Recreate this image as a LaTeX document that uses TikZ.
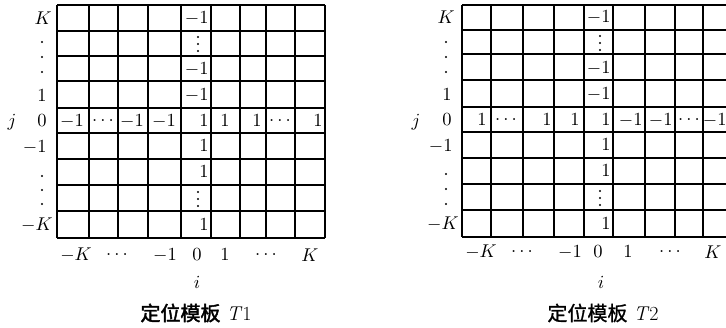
\documentclass[tikz,border=0pt]{standalone}
\usepackage{fontspec}
\newfontfamily\cjk[FakeBold=1]{Noto Sans CJK SC}
\newfontfamily\cjkb[FakeBold=2]{Noto Sans CJK SC}
\begin{document}
\begin{tikzpicture}[x=1pt,y=-1pt,
  gridline/.style={line width=1.2pt,black},
  val/.style={inner sep=0pt,scale=1.85},
  lab/.style={inner sep=0pt,scale=1.85},
  captext/.style={inner sep=0pt,font=\fontsize{20}{22}\selectfont},
  dotmark/.style={circle,fill=black,inner sep=0pt,minimum size=2.4pt},
  celldot/.style={circle,fill=black,inner sep=0pt,minimum size=2.2pt}]
\useasboundingbox (0,0) rectangle (726,327);
\clip (0,0) rectangle (726,327);
% ---------- T1 grid ----------
\foreach \x in {57,89,118,148,181,211,240,266,295,325}
  \draw[gridline] (\x,5) -- (\x,238);
\foreach \y in {5,31,56,81,108,133,159,185,211,238}
  \draw[gridline] (57,\y) -- (325,\y);
% column i=0 values
\node[val,anchor=east] (a0) at (209,18) {$-1$};
\node[celldot] (a1a) at (198,37) {};
\node[celldot] (a1b) at (198,44) {};
\node[celldot] (a1c) at (198,51) {};
\node[val,anchor=east] (a2) at (209,69) {$-1$};
\node[val,anchor=east] (a3) at (209,95) {$-1$};
\node[val,anchor=east] (a5) at (209,146) {$1$};
\node[val,anchor=east] (a6) at (209,172) {$1$};
\node[celldot] (a7a) at (198,192) {};
\node[celldot] (a7b) at (198,199) {};
\node[celldot] (a7c) at (198,206) {};
\node[val,anchor=east] (a8) at (209,225) {$1$};
% row j=0 values
\node[val] (b0) at (72,121) {$-1$};
\node[val] (b1) at (103,121) {$\ldots$};
\node[val] (b2) at (132,121) {$-1$};
\node[val] (b3) at (164,121) {$-1$};
\node[val,anchor=east] (b4) at (209,121) {$1$};
\node[val] (b5) at (225,121) {$1$};
\node[val] (b6) at (257,121) {$1$};
\node[val] (b7) at (280,121) {$\ldots$};
\node[val,anchor=east] (b8) at (323,121) {$1$};
% row labels
\node[lab,anchor=east] (rK) at (52,18) {$K$};
\node[dotmark] (rd1) at (42,42) {};
\node[dotmark] (rd2) at (42,57) {};
\node[dotmark] (rd3) at (42,72) {};
\node[lab,anchor=east] (r1) at (47,96) {$1$};
\node[lab,anchor=east] (r0) at (47,121) {$0$};
\node[lab,anchor=east] (rm1) at (47,147) {$-1$};
\node[dotmark] (rd4) at (42,176) {};
\node[dotmark] (rd5) at (42,190) {};
\node[dotmark] (rd6) at (42,204) {};
\node[lab,anchor=east] (rmK) at (53,225) {$-K$};
\node[lab] (jA) at (12,122) {$j$};
% column labels
\node[lab] (cmK) at (76,255) {$-K$};
\node[lab] (cd1) at (117,255) {$\ldots$};
\node[lab] (cm1) at (165,255) {$-1$};
\node[lab] (c0) at (197,255) {$0$};
\node[lab] (c1) at (225,255) {$1$};
\node[lab] (cd2) at (266,255) {$\ldots$};
\node[lab] (cK) at (310,255) {$K$};
\node[lab] (iA) at (197,282) {$i$};
\node[captext] (capA) at (196,313) {{\cjkb 定位模板} \textit{T}1};
% ---------- T2 grid ----------
\foreach \x in {462,491,523,554,584,613,645,675,703,733}
  \draw[gridline] (\x,5) -- (\x,237);
\foreach \y in {5,30,54,80,107,132,158,184,210,237}
  \draw[gridline] (462,\y) -- (733,\y);
% column i=0 values
\node[val,anchor=east] (p0) at (611,17) {$-1$};
\node[celldot] (p1a) at (600,36) {};
\node[celldot] (p1b) at (600,43) {};
\node[celldot] (p1c) at (600,50) {};
\node[val,anchor=east] (p2) at (611,68) {$-1$};
\node[val,anchor=east] (p3) at (611,94) {$-1$};
\node[val,anchor=east] (p5) at (611,145) {$1$};
\node[val,anchor=east] (p6) at (611,171) {$1$};
\node[celldot] (p7a) at (600,191) {};
\node[celldot] (p7b) at (600,198) {};
\node[celldot] (p7c) at (600,205) {};
\node[val,anchor=east] (p8) at (611,224) {$1$};
% row j=0 values
\node[val,anchor=east] (q0) at (487,120) {$1$};
\node[val] (q1) at (506,120) {$\ldots$};
\node[val,anchor=east] (q2) at (552,120) {$1$};
\node[val,anchor=east] (q3) at (580,120) {$1$};
\node[val,anchor=east] (q4) at (611,120) {$1$};
\node[val,anchor=east] (q5) at (643,120) {$-1$};
\node[val,anchor=east] (q6) at (673,120) {$-1$};
\node[val] (q7) at (689,120) {$\ldots$};
\node[val,anchor=east] (q8) at (727,120) {$-1$};
% row labels
\node[lab,anchor=east] (sK) at (455,17) {$K$};
\node[dotmark] (sd1) at (446,42) {};
\node[dotmark] (sd2) at (446,57) {};
\node[dotmark] (sd3) at (446,72) {};
\node[lab,anchor=east] (s1) at (452,95) {$1$};
\node[lab,anchor=east] (s0) at (452,120) {$0$};
\node[lab,anchor=east] (sm1) at (453,146) {$-1$};
\node[dotmark] (sd4) at (446,174) {};
\node[dotmark] (sd5) at (446,189) {};
\node[dotmark] (sd6) at (446,204) {};
\node[lab,anchor=east] (smK) at (459,224) {$-K$};
\node[lab] (jB) at (416,122) {$j$};
% column labels
\node[lab] (tmK) at (481,252) {$-K$};
\node[lab] (td1) at (522,252) {$\ldots$};
\node[lab] (tm1) at (570,252) {$-1$};
\node[lab] (t0) at (598,252) {$0$};
\node[lab] (t1) at (628,252) {$1$};
\node[lab] (td2) at (670,252) {$\ldots$};
\node[lab] (tK) at (713,252) {$K$};
\node[lab] (iB) at (601,282) {$i$};
\node[captext] (capB) at (603,313) {{\cjk 定位模板} \textit{T}2};
\end{tikzpicture}
\end{document}
